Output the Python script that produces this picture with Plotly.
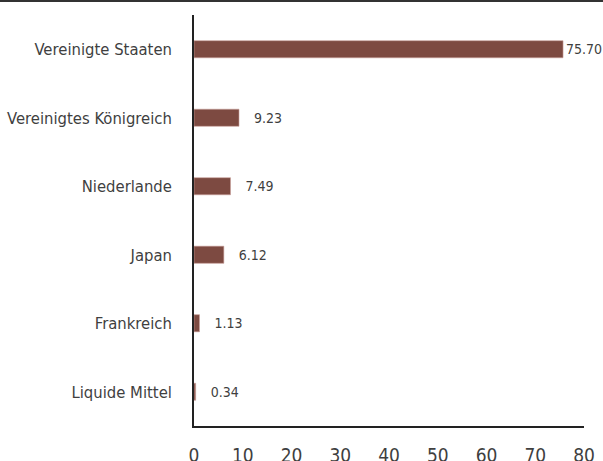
import plotly.graph_objects as go

categories = ["Vereinigte Staaten", "Vereinigtes Königreich", "Niederlande", "Japan", "Frankreich", "Liquide Mittel"]
values = [75.70, 9.23, 7.49, 6.12, 1.13, 0.34]
x_ticks = [0, 10, 20, 30, 40, 50, 60, 70, 80]

FONT = "DejaVu Sans Condensed, Liberation Sans Narrow, sans-serif"
TXT = "#3f3f3f"
labels = [("\u00a0\u00a0\u00a0" if v < 70 else "") + f"{v:.2f}" for v in values]

fig = go.Figure(go.Bar(
    y=categories, x=values, orientation="h",
    marker=dict(color="#7d4a41", line=dict(color="#c9a09a", width=0.6)),
    width=0.25,
    text=labels, textposition="outside", cliponaxis=False,
    textfont=dict(family=FONT, size=14, color=TXT),
))

fig.update_layout(
    width=603, height=461,
    margin=dict(l=194, r=19, t=15, b=35, autoexpand=False),
    plot_bgcolor="white", paper_bgcolor="white",
    showlegend=False,
    font=dict(family=FONT, color=TXT),
    xaxis=dict(range=[0, 80], tickvals=x_ticks, showgrid=False, zeroline=False,
               showline=True, linecolor="#222222", linewidth=1.5, automargin=False,
               tickfont=dict(family=FONT, size=19, color=TXT), ticks="outside",
               ticklen=11, tickcolor="rgba(0,0,0,0)"),
    yaxis=dict(autorange="reversed", showgrid=False, zeroline=False,
               showline=True, linecolor="#222222", linewidth=1.5, automargin=False,
               tickfont=dict(family=FONT, size=16.5, color=TXT), ticks="outside",
               ticklen=17, tickcolor="rgba(0,0,0,0)"),
    shapes=[dict(type="rect", xref="paper", yref="paper", layer="above",
                 x0=-194/390, x1=409/390, y0=1 + 13/411, y1=1 + 15/411,
                 fillcolor="#333333", line=dict(width=0))],
)

fig.write_html("out.html", config={"displayModeBar": False})
with open("out.html", encoding="utf-8") as f:
    html = f.read()
html = html.replace("<head>", "<head><style>html,body{margin:0;padding:0;overflow:hidden}</style>", 1)
with open("out.html", "w", encoding="utf-8") as f:
    f.write(html)
